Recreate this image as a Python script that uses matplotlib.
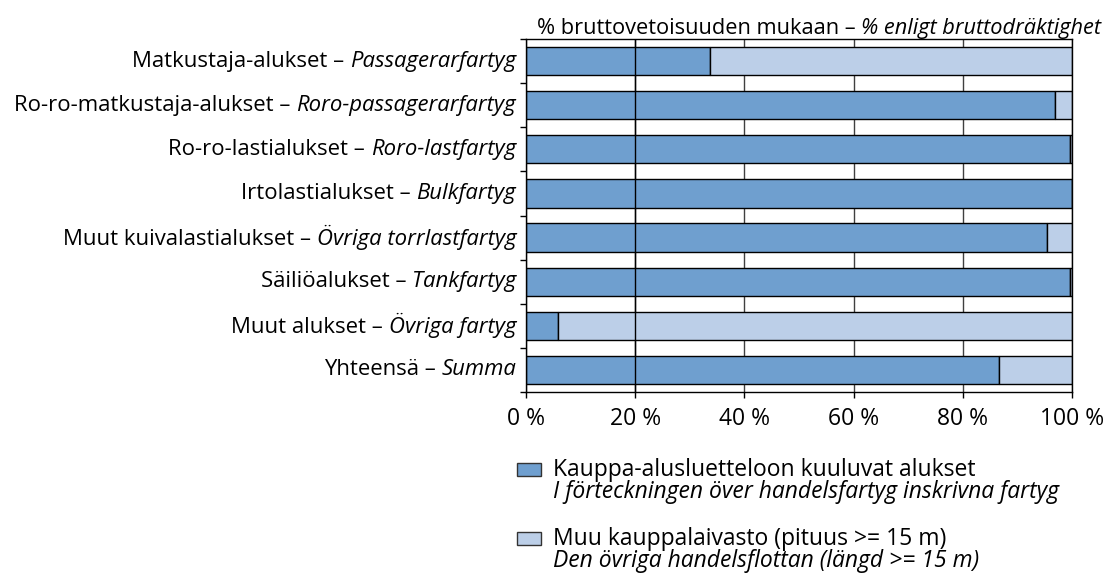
"""Ship tonnage share chart: register vessels vs. other merchant fleet."""

import matplotlib
matplotlib.use("Agg")
import matplotlib.pyplot as plt
from matplotlib.patches import Rectangle

plt.rcParams["font.family"] = ["Open Sans", "DejaVu Sans"]

# categories: Finnish part (normal) + Swedish part (italic)
labels_fi = [
    "Matkustaja-alukset – ",
    "Ro-ro-matkustaja-alukset – ",
    "Ro-ro-lastialukset – ",
    "Irtolastialukset – ",
    "Muut kuivalastialukset – ",
    "Säiliöalukset – ",
    "Muut alukset – ",
    "Yhteensä – ",
]
labels_sv = [
    "Passagerarfartyg",
    "Roro-passagerarfartyg",
    "Roro-lastfartyg",
    "Bulkfartyg",
    "Övriga torrlastfartyg",
    "Tankfartyg",
    "Övriga fartyg",
    "Summa",
]
# % of gross tonnage in the merchant ship register
register_pct = [33.7, 96.9, 99.7, 100.0, 95.5, 99.7, 5.8, 86.7]
other_pct = [100 - v for v in register_pct]
xticks = [0, 20, 40, 60, 80, 100]

DARK = "#6f9fcf"
LIGHT = "#bccfe8"
FS = 15.95
FS_TITLE = 15.7
FS_TICK = 16.5
FS_LEG = 16.5

W, H = 1116, 574
fig = plt.figure(figsize=(W / 100, H / 100), dpi=100)
ax = fig.add_axes([526 / W, 1 - 392 / H, (1072 - 526) / W, (392 - 39) / H])

ypos = list(range(len(register_pct)))
ax.barh(ypos, register_pct, height=0.64, color=DARK, edgecolor="black",
        linewidth=1, zorder=2)
ax.barh(ypos, other_pct, left=register_pct, height=0.64, color=LIGHT,
        edgecolor="black", linewidth=1, zorder=2)
ax.axvline(20, color="black", lw=1, zorder=3)

ax.set_xlim(0, 100)
ax.set_ylim(len(ypos) - 0.5, -0.5)
ax.set_xticks(xticks)
ax.set_xticklabels([f"{v} %" for v in xticks], fontsize=FS_TICK)
ax.set_yticks([i + 0.5 for i in range(-1, len(ypos))])
ax.set_yticklabels([])
ax.tick_params(axis="both", direction="out", length=4, width=1, color="black")
ax.tick_params(axis="x", pad=7)
ax.xaxis.grid(True, color="#404040", lw=1, zorder=0)
ax.set_axisbelow(True)
for s in ax.spines.values():
    s.set_color("black")
    s.set_linewidth(1)

# category labels: normal Finnish + italic Swedish, right-aligned
for i, (fi, sv) in enumerate(zip(labels_fi, labels_sv)):
    t = ax.text(-0.018, i, sv, transform=ax.get_yaxis_transform(),
                ha="right", va="center", fontsize=FS, style="italic")
    ax.annotate(fi, xy=(0, 0), xycoords=t, ha="right", va="bottom",
                fontsize=FS)

# title above the plot
t1 = fig.text(537 / W, 1 - 34 / H, "% bruttovetoisuuden mukaan – ",
              fontsize=FS_TITLE, ha="left", va="baseline")
ax.annotate("% enligt bruttodräktighet", xy=(1, 0), xycoords=t1,
            ha="left", va="bottom", fontsize=FS_TITLE, style="italic",
            annotation_clip=False)

# legend: swatch centre and the two text baselines (pixels from top)
legend_items = [
    (DARK, "Kauppa-alusluetteloon kuuluvat alukset",
     "I förteckningen över handelsfartyg inskrivna fartyg", 469, 476),
    (LIGHT, "Muu kauppalaivasto (pituus >= 15 m)",
     "Den övriga handelsflottan (längd >= 15 m)", 538, 545),
]
for color, fi, sv, yc, yb in legend_items:
    fig.patches.append(Rectangle((517 / W, 1 - (yc + 6.5) / H), 24 / W, 13 / H,
                                 facecolor=color, edgecolor="#333333", lw=1,
                                 transform=fig.transFigure, figure=fig))
    fig.text(553 / W, 1 - yb / H, fi, fontsize=FS_LEG, ha="left",
             va="baseline")
    fig.text(553 / W, 1 - (yb + 22) / H, sv, fontsize=FS_LEG, ha="left",
             va="baseline", style="italic")

fig.savefig("out.png", dpi=100)
